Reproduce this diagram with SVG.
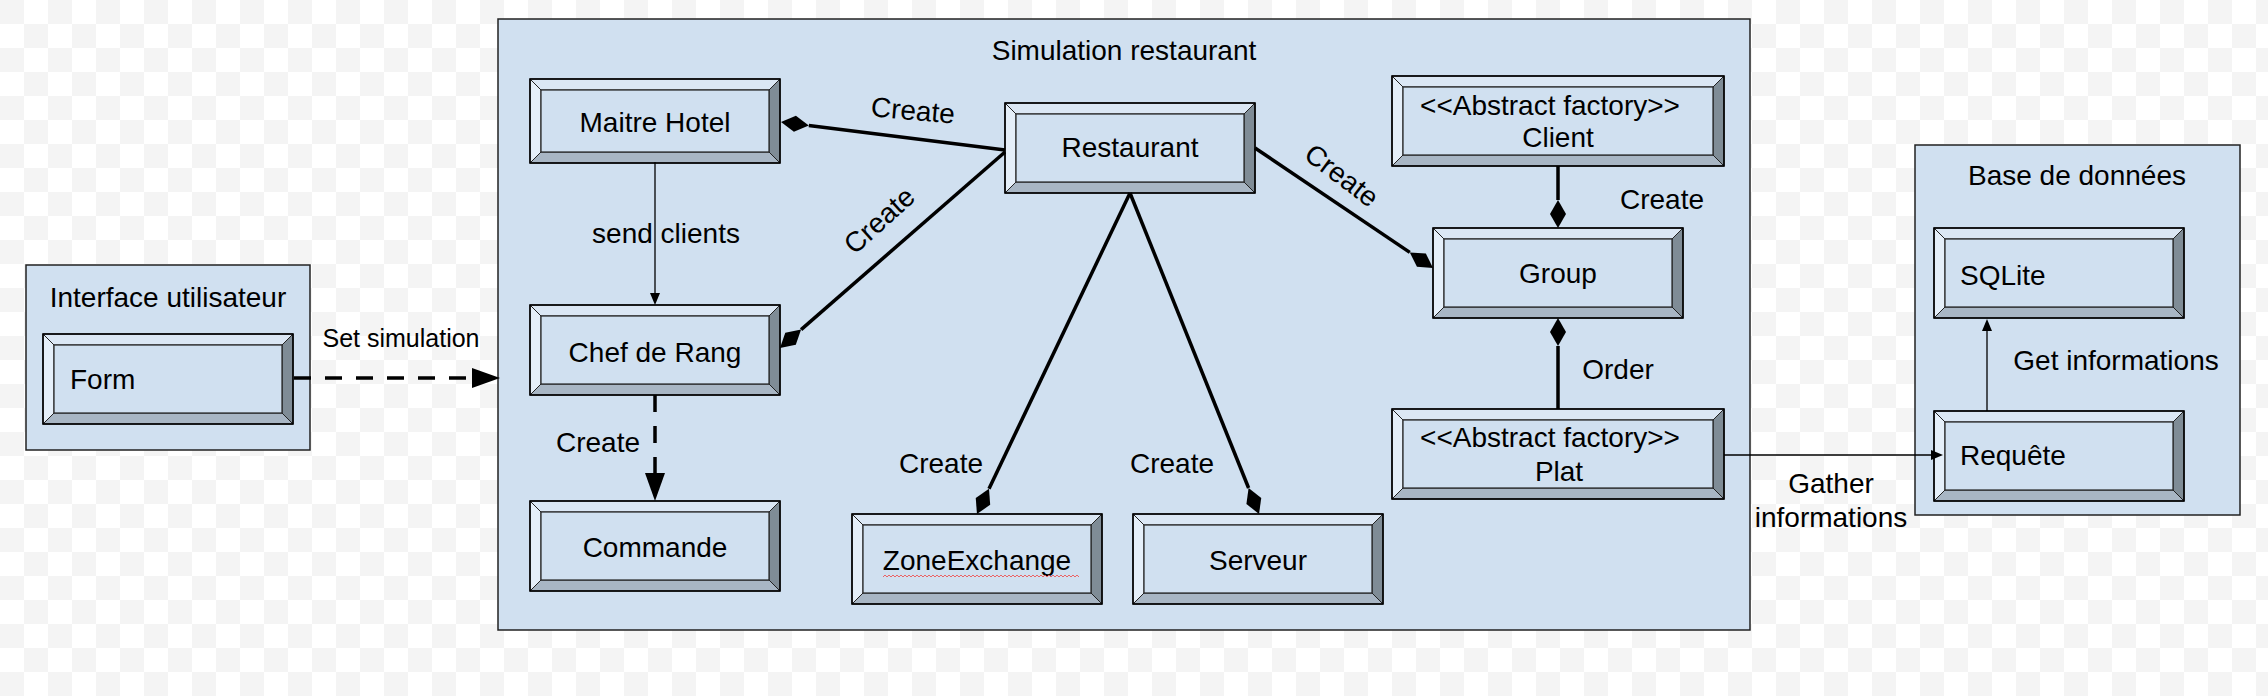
<svg xmlns="http://www.w3.org/2000/svg" width="2268" height="696" viewBox="0 0 2268 696">
<style>
text{font-family:"Liberation Sans",Arial,sans-serif;font-size:28px;fill:#000}
.c{text-anchor:middle}
.cont{fill:#d0e0f0;stroke:#222;stroke-width:1.5}
.bt{fill:#dbe7f4;stroke:#222;stroke-width:1}
.bl{fill:#e5eff9;stroke:#222;stroke-width:1}
.br{fill:#7f8c96;stroke:#222;stroke-width:1}
.bb{fill:#a8b6c4;stroke:#222;stroke-width:1}
.face{fill:#d0e0f0;stroke:#222;stroke-width:1.2}
.edge{fill:none;stroke:#000;stroke-width:1.5}
.thick{fill:none;stroke:#000;stroke-width:3.5}
.thin{fill:none;stroke:#000;stroke-width:1.3}
.dash{stroke-dasharray:17 14}
</style>
<defs>
<pattern id="chk" width="48" height="48" patternUnits="userSpaceOnUse">
<rect width="48" height="48" fill="#ffffff"/>
<rect width="24" height="24" fill="#f4f4f4"/>
<rect x="24" y="24" width="24" height="24" fill="#f4f4f4"/>
</pattern>
<marker id="dia" viewBox="-1 -10 30 20" refX="0" refY="0" markerWidth="30" markerHeight="20" markerUnits="userSpaceOnUse" orient="auto">
<path d="M0,0 L14,-8 L28,0 L14,8 Z" fill="#000"/>
</marker>
<marker id="blk" viewBox="-1 -11 30 22" refX="0" refY="0" markerWidth="30" markerHeight="22" markerUnits="userSpaceOnUse" orient="auto">
<path d="M0,-10 L28,0 L0,10 Z" fill="#000"/>
</marker>
<marker id="sm" viewBox="-1 -6 14 12" refX="0" refY="0" markerWidth="14" markerHeight="12" markerUnits="userSpaceOnUse" orient="auto">
<path d="M0,-5 L12,0 L0,5 Z" fill="#000"/>
</marker>
<symbol id="n250" overflow="visible">
<polygon class="bt" points="0,0 250,0 239,11 11,11"/>
<polygon class="bl" points="0,0 11,11 11,79 0,90"/>
<polygon class="br" points="250,0 250,90 239,79 239,11"/>
<polygon class="bb" points="0,90 11,79 239,79 250,90"/>
<rect class="face" x="11" y="11" width="228" height="68"/>
<rect x="0" y="0" width="250" height="90" fill="none" stroke="#000" stroke-width="1.6"/>
</symbol>
<symbol id="n250s" overflow="visible">
<polygon class="bt" points="0,0 250,0 239,11 11,11"/>
<polygon class="bl" points="0,0 11,11 11,73 0,84"/>
<polygon class="br" points="250,0 250,84 239,73 239,11"/>
<polygon class="bb" points="0,84 11,73 239,73 250,84"/>
<rect class="face" x="11" y="11" width="228" height="62"/>
<rect x="0" y="0" width="250" height="84" fill="none" stroke="#000" stroke-width="1.6"/>
</symbol>
<symbol id="n332" overflow="visible">
<polygon class="bt" points="0,0 332,0 321,11 11,11"/>
<polygon class="bl" points="0,0 11,11 11,79 0,90"/>
<polygon class="br" points="332,0 332,90 321,79 321,11"/>
<polygon class="bb" points="0,90 11,79 321,79 332,90"/>
<rect class="face" x="11" y="11" width="310" height="68"/>
<rect x="0" y="0" width="332" height="90" fill="none" stroke="#000" stroke-width="1.6"/>
</symbol>
</defs>

<rect width="2268" height="696" fill="url(#chk)"/>

<g id="containers">
<g id="interface-utilisateur">
<rect class="cont" x="26" y="265" width="284" height="185"/>
<text class="c" x="168" y="307">Interface utilisateur</text>
</g>
<g id="simulation-restaurant">
<rect class="cont" x="498" y="19" width="1252" height="611"/>
<text class="c" x="1124" y="60">Simulation restaurant</text>
</g>
<g id="base-de-donnees">
<rect class="cont" x="1915" y="145" width="325" height="370"/>
<text class="c" x="2077" y="185">Base de données</text>
</g>
</g>

<g id="node-form"><use href="#n250" x="43" y="334"/><text x="70" y="389">Form</text></g>
<g id="node-maitre-hotel"><use href="#n250s" x="530" y="79"/><text class="c" x="655" y="132">Maitre Hotel</text></g>
<g id="node-restaurant"><use href="#n250" x="1005" y="103"/><text class="c" x="1130" y="157">Restaurant</text></g>
<g id="node-chef-de-rang"><use href="#n250" x="530" y="305"/><text class="c" x="655" y="362">Chef de Rang</text></g>
<g id="node-commande"><use href="#n250" x="530" y="501"/><text class="c" x="655" y="557">Commande</text></g>
<g id="node-zoneexchange"><use href="#n250" x="852" y="514"/><text class="c" x="977" y="570">ZoneExchange</text>
<path d="M883,577 l2,-2 l2,2 l2,-2 l2,2 l2,-2 l2,2 l2,-2 l2,2 l2,-2 l2,2 l2,-2 l2,2 l2,-2 l2,2 l2,-2 l2,2 l2,-2 l2,2 l2,-2 l2,2 l2,-2 l2,2 l2,-2 l2,2 l2,-2 l2,2 l2,-2 l2,2 l2,-2 l2,2 l2,-2 l2,2 l2,-2 l2,2 l2,-2 l2,2 l2,-2 l2,2 l2,-2 l2,2 l2,-2 l2,2 l2,-2 l2,2 l2,-2 l2,2 l2,-2 l2,2 l2,-2 l2,2 l2,-2 l2,2 l2,-2 l2,2 l2,-2 l2,2 l2,-2 l2,2 l2,-2 l2,2 l2,-2 l2,2 l2,-2 l2,2 l2,-2 l2,2 l2,-2 l2,2 l2,-2 l2,2 l2,-2 l2,2 l2,-2 l2,2 l2,-2 l2,2 l2,-2 l2,2 l2,-2 l2,2 l2,-2 l2,2 l2,-2 l2,2 l2,-2 l2,2 l2,-2 l2,2 l2,-2 l2,2 l2,-2 l2,2 l2,-2 l2,2 l2,-2 l2,2 l2,-2 l2,2" fill="none" stroke="#e55" stroke-width="0.9"/></g>
<g id="node-serveur"><use href="#n250" x="1133" y="514"/><text class="c" x="1258" y="570">Serveur</text></g>
<g id="node-client"><use href="#n332" x="1392" y="76"/><text class="c" x="1550" y="115">&lt;&lt;Abstract factory&gt;&gt;</text><text class="c" x="1558" y="147">Client</text></g>
<g id="node-group"><use href="#n250" x="1433" y="228"/><text class="c" x="1558" y="283">Group</text></g>
<g id="node-plat"><use href="#n332" x="1392" y="409"/><text class="c" x="1550" y="447">&lt;&lt;Abstract factory&gt;&gt;</text><text class="c" x="1559" y="481">Plat</text></g>
<g id="node-sqlite"><use href="#n250" x="1934" y="228"/><text x="1960" y="285">SQLite</text></g>
<g id="node-requete"><use href="#n250" x="1934" y="411"/><text x="1960" y="465">Requête</text></g>

<g id="connectors">
<path class="thick dash" d="M294,378 L472,378" marker-end="url(#blk)"/>
<path class="thin" d="M655,162 L655,293" marker-end="url(#sm)"/>
<path class="thick" d="M1005,150 L808.8,125.5" marker-end="url(#dia)"/>
<path class="thick" d="M1005,152 L801.1,329.6" marker-end="url(#dia)"/>
<path class="thick" d="M1130,193 L989,488.7" marker-end="url(#dia)"/>
<path class="thick" d="M1130,193 L1248.6,488" marker-end="url(#dia)"/>
<path class="thick" d="M1255,148 L1409.8,252.4" marker-end="url(#dia)"/>
<path class="thick" d="M1558,166 L1558,200" marker-end="url(#dia)"/>
<path class="thick" d="M1558,409 L1558,346" marker-end="url(#dia)"/>
<path class="thick dash" d="M655,395 L655,473" marker-end="url(#blk)"/>
<path class="thin" d="M1724,455 L1931,455" marker-end="url(#sm)"/>
<path class="thin" d="M1987,411 L1987,331" marker-end="url(#sm)"/>
</g>

<g id="edge-labels">
<text class="c" x="401" y="347" style="font-size:25px">Set simulation</text>
<text class="c" x="666" y="243">send clients</text>
<text class="c" transform="translate(913,110) rotate(5)" y="10">Create</text>
<text class="c" transform="translate(879,220) rotate(-42)" y="10">Create</text>
<text class="c" transform="translate(1342,175) rotate(37)" y="10">Create</text>
<text class="c" x="1662" y="209">Create</text>
<text class="c" x="1618" y="379">Order</text>
<text class="c" x="598" y="452">Create</text>
<text class="c" x="941" y="473">Create</text>
<text class="c" x="1172" y="473">Create</text>
<text class="c" x="1831" y="493">Gather</text>
<text class="c" x="1831" y="527">informations</text>
<text class="c" x="2116" y="370">Get informations</text>
</g>
</svg>
